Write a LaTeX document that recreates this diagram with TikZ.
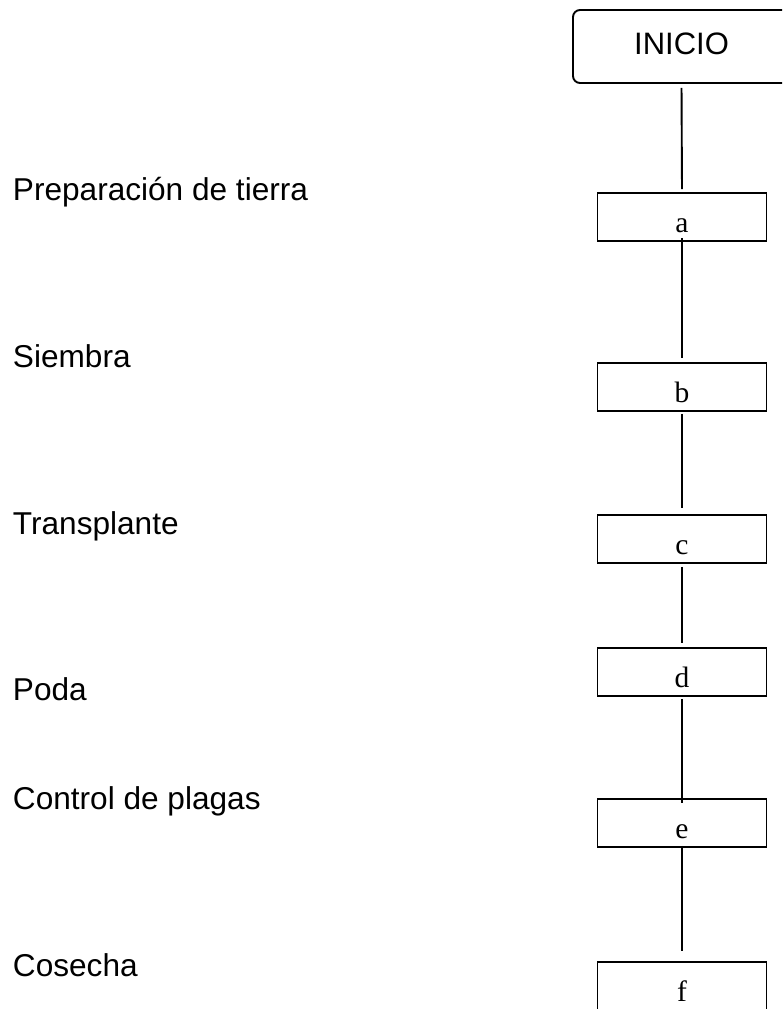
\documentclass[tikz,border=0pt]{standalone}
\usepackage{fontspec}
\setmainfont{Liberation Sans}
\newfontfamily\boxfont{Liberation Serif}
\usetikzlibrary{shapes}
\tikzstyle{terminal} = [draw, rectangle, rounded corners=7pt,
    minimum height=73pt, minimum width=217pt, inner sep=0pt,
    text height=22pt, text depth=7pt, font=\fontsize{31}{37}\selectfont]
\tikzstyle{block} = [draw, rectangle, inner sep=0pt,
    minimum height=48pt, minimum width=169pt,
    text height=36pt, text depth=6pt, font=\boxfont\fontsize{29.5}{34}\selectfont]
\tikzstyle{etapa} = [anchor=base west, inner sep=0pt,
    font=\fontsize{31.6}{37}\selectfont]

\begin{document}
\begin{tikzpicture}[x=1pt, y=-1pt, line width=1.9pt]
    \clip (0,0) rectangle (782,1009);
    % We start by placing the blocks
    \node [terminal] (inicio) at (681.5,46.5) {INICIO};
    \node [block] (a) at (682,217) {a};
    \node [block] (b) at (682,387) {b};
    \node [block] (c) at (682,539) {c};
    \node [block] (d) at (682,672) {d};
    \node [block] (e) at (682,823) {e};
    \node [block] (f) at (682,986) {f};

    % The names of the stages go on the left
    \node [etapa] (prep) at (12,200) {Preparación de tierra};
    \node [etapa] (siembra) at (12,367) {Siembra};
    \node [etapa] (trans) at (12,534) {Transplante};
    \node [etapa] (poda) at (12,700) {Poda};
    \node [etapa] (control) at (12,809) {Control de plagas};
    \node [etapa] (cosecha) at (12,976) {Cosecha};

    % Once the nodes are placed, connecting them is easy.
    \draw [shorten <=4pt, shorten >=3pt] (inicio.south) -- (a.north);
    \draw [shorten <=-4pt, shorten >=4pt] (a.south) -- (b.north);
    \draw [shorten <=2pt, shorten >=6pt] (b.south) -- (c.north);
    \draw [shorten <=3pt, shorten >=4pt] (c.south) -- (d.north);
    \draw [shorten <=2pt, shorten >=-5pt] (d.south) -- (e.north);
    \draw [shorten <=-2pt, shorten >=10pt] (e.south) -- (f.north);
\end{tikzpicture}
\end{document}
